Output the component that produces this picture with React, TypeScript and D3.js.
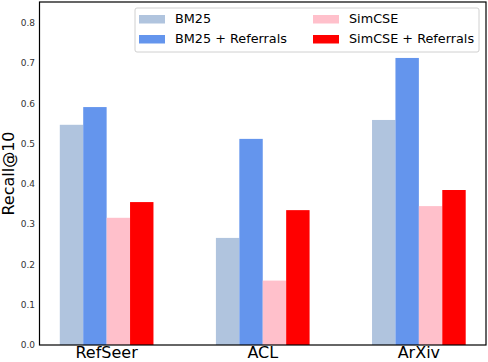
import { scaleBand, scaleLinear } from "d3";

const W = 488;
const H = 362;
const M = { top: 2, right: 2, bottom: 17, left: 39.5 };

const datasets = ["RefSeer", "ACL", "ArXiv"];
const methods = ["BM25", "BM25 + Referrals", "SimCSE", "SimCSE + Referrals"];
const colors = ["#b0c4de", "#6495ed", "#ffc0cb", "#ff0000"];

const bm25 = [0.547, 0.266, 0.559];
const bm25Ref = [0.591, 0.512, 0.713];
const simcse = [0.316, 0.16, 0.345];
const simcseRef = [0.355, 0.335, 0.385];
const series = [bm25, bm25Ref, simcse, simcseRef];

const yTicks = [0, 0.1, 0.2, 0.3, 0.4, 0.5, 0.6, 0.7, 0.8];
const font = "DejaVu Sans, sans-serif";

export default function App() {
  const x = scaleBand().domain(datasets).range([M.left, W - M.right]).paddingInner(0.4).paddingOuter(0.13);
  const y = scaleLinear().domain([0, 0.852]).range([H - M.bottom, M.top]);
  const inner = scaleBand().domain(methods).range([0, x.bandwidth()]);

  // legend: two columns, BM25 pair left, SimCSE pair right
  const legendItems = methods.map((m, i) => ({
    m,
    c: colors[i],
    lx: i < 2 ? 139 : 313,
    ly: i % 2 === 0 ? 19 : 39,
  }));

  return (
    <svg width={W} height={H} style={{ position: "absolute", left: 0, top: 0, background: "#fff" }}>
      {series.map((vals, si) =>
        datasets.map((d, di) => (
          <rect
            key={`${si}-${di}`}
            x={(x(d) ?? 0) + (inner(methods[si]) ?? 0)}
            y={y(vals[di])}
            width={inner.bandwidth()}
            height={y(0) - y(vals[di])}
            fill={colors[si]}
          />
        ))
      )}
      <rect x={M.left} y={M.top} width={W - M.right - M.left} height={y(0) - M.top} fill="none" stroke="#000" strokeWidth={1.2} />
      {yTicks.map((t) => (
        <text key={t} x={M.left - 4.5} y={y(t)} dy="0.35em" textAnchor="end" fontFamily={font} fontSize={9} fill="#333">
          {t.toFixed(1)}
        </text>
      ))}
      {datasets.map((d) => (
        <text key={d} x={(x(d) ?? 0) + x.bandwidth() / 2} y={H - 4} textAnchor="middle" fontFamily={font} fontSize={16} fill="#000">
          {d}
        </text>
      ))}
      <text transform={`translate(14,${(M.top + y(0)) / 2}) rotate(-90)`} textAnchor="middle" fontFamily={font} fontSize={16} fill="#000">
        Recall@10
      </text>
      <rect x={135} y={8} width={344} height={44} rx={2} fill="#fff" fillOpacity={0.8} stroke="#d0d0d0" strokeWidth={1} />
      {legendItems.map((it) => (
        <g key={it.m}>
          <rect x={it.lx} y={it.ly - 4} width={26} height={8.5} fill={it.c} />
          <text x={it.lx + 36} y={it.ly} dy="0.35em" fontFamily={font} fontSize={12.8} fill="#000">
            {it.m}
          </text>
        </g>
      ))}
    </svg>
  );
}
